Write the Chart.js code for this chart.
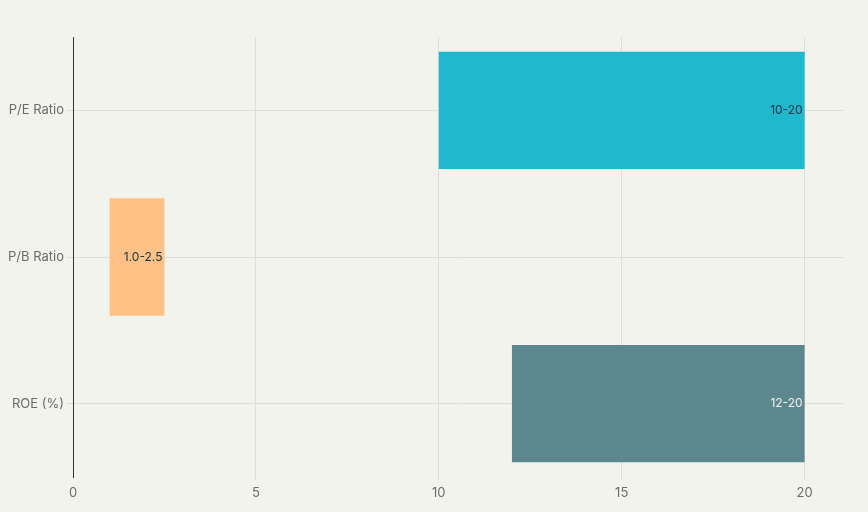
<!DOCTYPE html>
<html>
<head>
<meta charset="utf-8">
<script src="https://cdn.jsdelivr.net/npm/chart.js@4"></script>
<style>
  html, body { margin: 0; padding: 0; background: #F3F3EE; }
  #wrap { width: 868px; height: 512px; }
</style>
</head>
<body>
<div id="wrap"><canvas id="myChart" width="868" height="512"></canvas></div>
<script>
const categories = ['P/E Ratio', 'P/B Ratio', 'ROE (%)'];
const rangeLow = [10, 1.0, 12];
const rangeHigh = [20, 2.5, 20];
const rangeText = ['10-20', '1.0-2.5', '12-20'];
const barColors = ['#1FB8CD', '#FFC185', '#5D878F'];
const textColors = ['#13343B', '#13343B', '#F3F3EE'];
const xTicks = [0, 5, 10, 15, 20];

document.addEventListener('DOMContentLoaded', () => {
  const fontFamily = 'Inter, "Liberation Sans", sans-serif';

  // range text at the right end of each bar, inside it
  const endLabels = {
    id: 'endLabels',
    afterDatasetsDraw (chart) {
      const ctx = chart.ctx;
      const meta = chart.getDatasetMeta(0);
      ctx.save();
      ctx.font = '12px ' + fontFamily;
      ctx.textAlign = 'right';
      ctx.textBaseline = 'middle';
      meta.data.forEach((bar, i) => {
        ctx.fillStyle = textColors[i];
        ctx.fillText(rangeText[i], bar.x - 2, bar.y);
      });
      ctx.restore();
    }
  };

  new Chart(document.getElementById('myChart'), {
    type: 'bar',
    data: {
      labels: categories,
      datasets: [{
        data: categories.map((c, i) => [rangeLow[i], rangeHigh[i]]),
        backgroundColor: barColors,
        borderWidth: 0,
        barPercentage: 0.8,
        categoryPercentage: 1
      }]
    },
    options: {
      indexAxis: 'y',
      responsive: false,
      animation: false,
      layout: { padding: { left: 0, right: 25, top: 37, bottom: 0 } },
      plugins: {
        legend: { display: false },
        tooltip: { enabled: false }
      },
      scales: {
        x: {
          type: 'linear',
          min: 0,
          max: 21.05,
          afterBuildTicks (scale) {
            scale.ticks = xTicks.map(v => ({ value: v }));
          },
          afterFit (scale) { scale.height = 35; },
          border: { display: false },
          grid: { color: '#DEDED8', drawTicks: true, tickLength: 3 },
          ticks: {
            color: '#6B6B6B',
            padding: 5,
            font: { family: fontFamily, size: 13 }
          }
        },
        y: {
          afterFit (scale) { scale.width = 73; },
          border: { display: true, color: '#333333', width: 1 },
          grid: { color: '#DEDED8', offset: false, drawTicks: true, tickLength: 6 },
          ticks: {
            color: '#6B6B6B',
            padding: 3,
            font: { family: fontFamily, size: 13 }
          }
        }
      }
    },
    plugins: [endLabels]
  });
});
</script>
</body>
</html>
